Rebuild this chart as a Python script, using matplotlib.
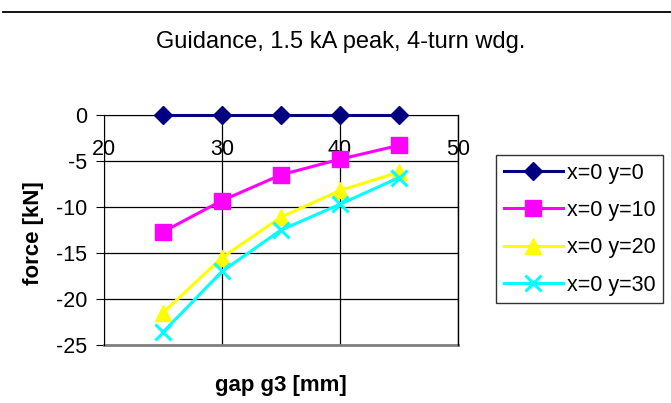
import matplotlib
matplotlib.use('Agg')
import matplotlib.pyplot as plt
from matplotlib.lines import Line2D

plt.rcParams['font.family'] = ['Liberation Sans', 'DejaVu Sans']
plt.rcParams['axes.unicode_minus'] = False

# gap g3 [mm] and guidance force [kN] per (x, y) offset
gap = [25, 30, 35, 40, 45]
f_y0 = [0, 0, 0, 0, 0]
f_y10 = [-12.7, -9.3, -6.5, -4.8, -3.3]
f_y20 = [-21.5, -15.5, -11.1, -8.2, -6.2]
f_y30 = [-23.6, -17.0, -12.5, -9.7, -6.8]

x_ticks = [20, 30, 40, 50]
y_ticks = [0, -5, -10, -15, -20, -25]

fig = plt.figure(figsize=(6.71, 4.03), dpi=100)
ax = fig.add_axes([0.155, 0.1439, 0.5276, 0.5707])

kw = dict(lw=2.2, clip_on=False, zorder=3)
ax.plot(gap, f_y0, color='#000080', marker='D', ms=9.5, label='x=0 y=0', **kw)
ax.plot(gap, f_y10, color='#FF00FF', marker='s', ms=11, label='x=0 y=10', **kw)
ax.plot(gap, f_y20, color='#FFFF00', marker='^', ms=12, label='x=0 y=20', **kw)
ax.plot(gap, f_y30, color='#00FFFF', marker='x', ms=11, mew=2.2, label='x=0 y=30', **kw)

ax.set_xlim(20, 50)
ax.set_ylim(-25, 0)
ax.set_xticks(x_ticks)
ax.set_yticks(y_ticks)
ax.grid(True, color='black', lw=0.9)
ax.set_axisbelow(True)

# x axis crosses at force = 0, so its labels sit under the top edge
ax.spines['bottom'].set_position(('data', 0))
ax.spines['bottom'].set_color('black')
ax.spines['left'].set_color('black')
ax.spines['top'].set_visible(False)
ax.spines['right'].set_color('black')
ax.spines['right'].set_linewidth(1.0)
ax.axhline(-25, color='#808080', lw=2, clip_on=False, zorder=1)

ax.tick_params(axis='x', length=0, labelsize=15.5, pad=17.5)
ax.tick_params(axis='y', length=6, direction='out', labelsize=15.5, pad=6)

fig.text(0.507, 1 - 42 / 403, 'Guidance, 1.5 kA peak, 4-turn wdg.',
         ha='center', va='center', fontsize=17)
fig.text(33 / 671, 1 - 233 / 403, 'force [kN]', rotation=90, ha='center', va='center',
         fontsize=16, fontweight='bold')
fig.text(281 / 671, 1 - 385 / 403, 'gap g3 [mm]', ha='center', va='center',
         fontsize=16, fontweight='bold')

fig.add_artist(Line2D([0.005, 1.0], [1 - 12 / 403, 1 - 12 / 403], color='black', lw=1.3))

leg = ax.legend(loc='upper left', bbox_to_anchor=(496 / 671, 1 - 155 / 403),
                bbox_transform=fig.transFigure, borderaxespad=0, fontsize=15.5,
                frameon=True, fancybox=False, handlelength=2.75, labelspacing=0.76,
                handletextpad=0.2, borderpad=0.35)
leg.get_frame().set_edgecolor('black')
leg.get_frame().set_linewidth(1.0)

fig.savefig('out.png', dpi=100)
